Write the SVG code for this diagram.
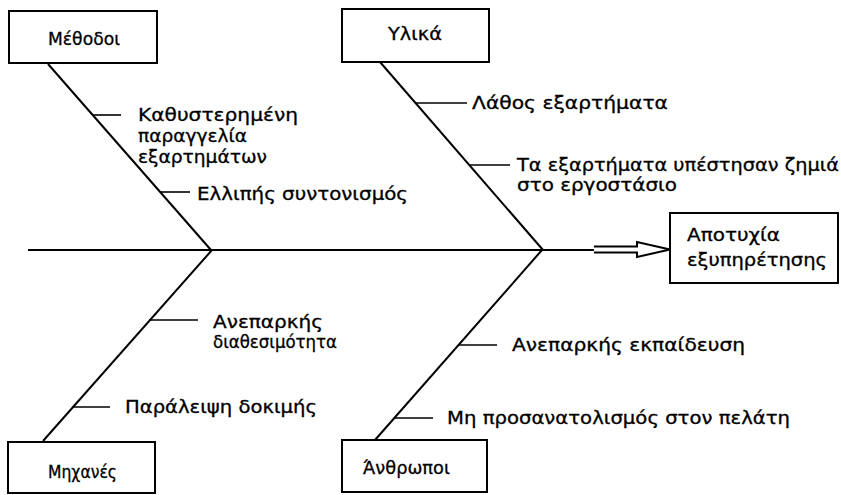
<svg xmlns="http://www.w3.org/2000/svg" width="841" height="495" viewBox="0 0 841 495">
<style>
.box{fill:#fff;stroke:#000;stroke-width:2}
.ln{fill:none;stroke:#000;stroke-width:2}
.tk{fill:none;stroke:#000;stroke-width:1.6}
text{font-family:"DejaVu Sans","Liberation Sans",Arial,sans-serif;font-size:17px;fill:#000;stroke:#000;stroke-width:0.3}
</style>
<rect width="841" height="495" fill="#fff"/>
<g id="connectors">
<line class="ln" x1="28" y1="250" x2="594" y2="250"/>
<path class="ln" d="M594,246.5 H637 V242 L670,249.5 L637,257 V252.5 H594"/>
<line class="ln" x1="48" y1="64" x2="211" y2="250"/>
<line class="ln" x1="380" y1="62" x2="543" y2="250"/>
<line class="ln" x1="212" y1="250" x2="43" y2="441"/>
<line class="ln" x1="542" y1="250" x2="375" y2="440"/>
<line class="tk" x1="92" y1="115" x2="121" y2="115"/>
<line class="tk" x1="161" y1="192" x2="190" y2="192"/>
<line class="tk" x1="416" y1="103" x2="467" y2="103"/>
<line class="tk" x1="470" y1="165" x2="510" y2="165"/>
<line class="tk" x1="149" y1="320" x2="198" y2="320"/>
<line class="tk" x1="72" y1="407" x2="110" y2="407"/>
<line class="tk" x1="458" y1="345" x2="497" y2="345"/>
<line class="tk" x1="394" y1="418" x2="433" y2="418"/>
</g>
<g id="effect">
<rect class="box" x="670" y="213" width="168" height="70"/>
<text x="687" y="241" textLength="93" lengthAdjust="spacingAndGlyphs">Αποτυχία</text>
<text x="687" y="266" textLength="140" lengthAdjust="spacingAndGlyphs">εξυπηρέτησης</text>
</g>
<g id="methods">
<rect class="box" x="9" y="11" width="148" height="52"/>
<text x="48" y="45" textLength="72" lengthAdjust="spacingAndGlyphs">Μέθοδοι</text>
</g>
<g id="materials">
<rect class="box" x="342" y="9" width="147" height="53"/>
<text x="388" y="40" textLength="54" lengthAdjust="spacingAndGlyphs">Υλικά</text>
</g>
<g id="machines">
<rect class="box" x="8" y="442" width="147" height="51"/>
<text x="48" y="478" textLength="69" lengthAdjust="spacingAndGlyphs">Μηχανές</text>
</g>
<g id="people">
<rect class="box" x="342" y="440" width="145" height="52"/>
<text x="363" y="474" textLength="87" lengthAdjust="spacingAndGlyphs">Άνθρωποι</text>
</g>
<g id="cause-late-order">
<text x="138" y="121" textLength="160" lengthAdjust="spacingAndGlyphs">Καθυστερημένη</text>
<text x="138" y="142" textLength="109" lengthAdjust="spacingAndGlyphs">παραγγελία</text>
<text x="138" y="163" textLength="129" lengthAdjust="spacingAndGlyphs">εξαρτημάτων</text>
</g>
<g id="cause-coordination">
<text x="197" y="200" textLength="211" lengthAdjust="spacingAndGlyphs">Ελλιπής συντονισμός</text>
</g>
<g id="cause-wrong-parts">
<text x="472" y="109" textLength="196" lengthAdjust="spacingAndGlyphs">Λάθος εξαρτήματα</text>
</g>
<g id="cause-damaged-parts">
<text x="517" y="171" textLength="322" lengthAdjust="spacingAndGlyphs">Τα εξαρτήματα υπέστησαν ζημιά</text>
<text x="517" y="191" textLength="160" lengthAdjust="spacingAndGlyphs">στο εργοστάσιο</text>
</g>
<g id="cause-availability">
<text x="213" y="328" textLength="110" lengthAdjust="spacingAndGlyphs">Ανεπαρκής</text>
<text x="213" y="348" textLength="124" lengthAdjust="spacingAndGlyphs">διαθεσιμότητα</text>
</g>
<g id="cause-testing">
<text x="125" y="413" textLength="192" lengthAdjust="spacingAndGlyphs">Παράλειψη δοκιμής</text>
</g>
<g id="cause-training">
<text x="512" y="351" textLength="233" lengthAdjust="spacingAndGlyphs">Ανεπαρκής εκπαίδευση</text>
</g>
<g id="cause-customer">
<text x="447" y="424" textLength="343" lengthAdjust="spacingAndGlyphs">Μη προσανατολισμός στον πελάτη</text>
</g>
</svg>
